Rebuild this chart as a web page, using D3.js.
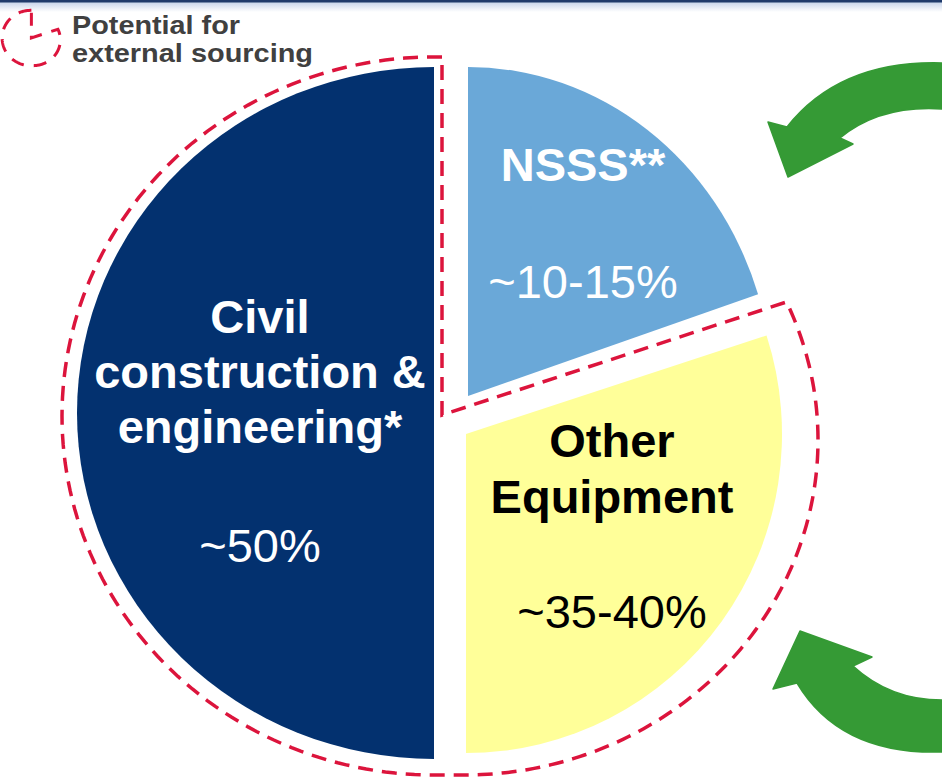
<!DOCTYPE html>
<html lang="en">
<head>
  <meta charset="UTF-8">
  <title>Cost split</title>
  <script src="https://d3js.org/d3.v7.min.js"></script>
  <style>
    body { margin: 0; padding: 0; background: #fff; }
    svg { display: block; }
    text { font-family: "Liberation Sans", Arial, sans-serif; }
  </style>
</head>
<body>
  <div id="chart"></div>
  <script>
    // data
    const categories = ["Civil construction & engineering*", "NSSS**", "Other Equipment"];
    const shares = [50, 20, 30];
    const nameLines = [["Civil", "construction &", "engineering*"], ["NSSS**"], ["Other", "Equipment"]];
    const shareLabels = ["~50%", "~10-15%", "~35-40%"];
    const externalSourcing = [true, false, true];
    const legendLines = ["Potential for", "external sourcing"];

    const width = 942, height = 781;

    // where each exploded slice sits (apex, radii) and how it is styled
    const sliceLayout = [
      { cx: 434, cy: 413, rx: 357, ry: 346, fill: "#03316f", ink: "#fff", lx: 260, ly: 333, lh: 55, shareY: 562 },
      { cx: 468, cy: 396, rx: 305, ry: 329, fill: "#6aa8d8", ink: "#fff", lx: 583, ly: 181, lh: 55, shareY: 298 },
      { cx: 466, cy: 434, rx: 316, ry: 319, fill: "#ffff99", ink: "#000", lx: 612, ly: 457, lh: 56, shareY: 628 }
    ];
    // dashed ring drawn around the externally sourced slices
    const ringLayout = [
      { cx: 434, cy: 416, rx: 372, ry: 359 },
      null,
      { cx: 464, cy: 440, rx: 354, ry: 335 }
    ];
    const ringCorner = { x: 442, y: 415 };
    const legendWidths = [168, 241];

    const svg = d3.select('#chart').append('svg')
      .attr('width', width).attr('height', height);

    // header strip
    const defs = svg.append('defs');
    const grad = defs.append('linearGradient').attr('id', 'hdr').attr('x1', 0).attr('y1', 0).attr('x2', 0).attr('y2', 1);
    grad.append('stop').attr('offset', 0).attr('stop-color', '#c6d3ea');
    grad.append('stop').attr('offset', 1).attr('stop-color', '#ffffff');
    svg.append('rect').attr('x', 0).attr('y', 2).attr('width', width).attr('height', 10).attr('fill', 'url(#hdr)');
    svg.append('rect').attr('x', 0).attr('y', 0).attr('width', width).attr('height', 2.5).attr('fill', '#1f3a6b');

    const pie = d3.pie().sort(null).startAngle(-Math.PI).endAngle(Math.PI);
    const arcs = pie(shares);
    const R = 100;
    const arc = d3.arc().innerRadius(0).outerRadius(R);

    svg.append('g').selectAll('path')
      .data(arcs)
      .join('path')
      .attr('transform', (d, i) => {
        const s = sliceLayout[i];
        return `translate(${s.cx},${s.cy}) scale(${s.rx / R},${s.ry / R})`;
      })
      .attr('d', arc)
      .attr('fill', (d, i) => sliceLayout[i].fill);

    // build the dashed outline from the pie angles
    function ellPt(e, a) { return [e.cx + e.rx * Math.sin(a), e.cy - e.ry * Math.cos(a)]; }

    function outlinePoints() {
      const idx = externalSourcing.map((v, i) => v ? i : -1).filter(i => i >= 0);
      const civ = arcs[idx[0]], oth = arcs[idx[1]];
      const r0 = ringLayout[idx[0]], r2 = ringLayout[idx[1]], s2 = sliceLayout[idx[1]];
      const pts = [];
      pts.push([ringCorner.x, r0.cy - r0.ry]);
      const n = 120;
      for (let k = 0; k <= n; k++) {
        const a = civ.endAngle + (civ.startAngle - civ.endAngle) * k / n;
        pts.push(ellPt(r0, a));
      }
      // diagonal follows the boundary between NSSS and Other
      let dx = Math.sin(oth.startAngle) * s2.rx, dy = -Math.cos(oth.startAngle) * s2.ry;
      const len = Math.hypot(dx, dy); dx /= len; dy /= len;
      const f = t => {
        const x = ringCorner.x + dx * t, y = ringCorner.y + dy * t;
        return ((x - r2.cx) / r2.rx) ** 2 + ((y - r2.cy) / r2.ry) ** 2 - 1;
      };
      let lo = 0, hi = 700;
      for (let k = 0; k < 60; k++) { const m = (lo + hi) / 2; if (f(m) < 0) lo = m; else hi = m; }
      const hit = [ringCorner.x + dx * lo, ringCorner.y + dy * lo];
      const aHit = Math.atan2((hit[0] - r2.cx) / r2.rx, -(hit[1] - r2.cy) / r2.ry);
      for (let k = 0; k <= n; k++) {
        const a = oth.endAngle + (aHit - oth.endAngle) * k / n;
        pts.push(ellPt(r2, a));
      }
      pts.push(hit);
      pts.push([ringCorner.x, ringCorner.y]);
      pts.push(pts[0]);
      return pts;
    }

    const ringPts = outlinePoints();
    const line = d3.line();

    svg.append('path')
      .attr('d', line(ringPts))
      .attr('fill', 'none')
      .attr('stroke', '#dc143c')
      .attr('stroke-width', 3.5)
      .attr('stroke-dasharray', '15 9');

    // slice labels
    const labels = svg.append('g').selectAll('g')
      .data(arcs)
      .join('g')
      .attr('text-anchor', 'middle')
      .attr('fill', (d, i) => sliceLayout[i].ink);

    labels.each(function(d, i) {
      const g = d3.select(this);
      const s = sliceLayout[i];
      nameLines[i].forEach((t, j) => {
        g.append('text')
          .attr('x', s.lx)
          .attr('y', s.ly + j * s.lh)
          .attr('font-size', 47)
          .attr('font-weight', 'bold')
          .text(t);
      });
      g.append('text')
        .attr('x', s.lx)
        .attr('y', s.shareY)
        .attr('font-size', 47)
        .text(shareLabels[i]);
    });

    // legend: a small copy of the dashed outline
    const k = 0.077;
    const legendPts = ringPts.map(p => [32 + (p[0] - 450) * k, 38 + (p[1] - 416) * k]);
    svg.append('path')
      .attr('d', line(legendPts))
      .attr('fill', 'none')
      .attr('stroke', '#dc143c')
      .attr('stroke-width', 3)
      .attr('stroke-dasharray', '13 10');

    svg.append('g').selectAll('text')
      .data(legendLines)
      .join('text')
      .attr('x', 72)
      .attr('y', (d, i) => 34 + i * 28)
      .attr('font-size', 26)
      .attr('font-weight', 'bold')
      .attr('fill', '#404040')
      .attr('textLength', (d, i) => legendWidths[i])
      .attr('lengthAdjust', 'spacingAndGlyphs')
      .text(d => d);

    // green arrows on the right
    const arrows = [
      'M942,63 Q840,60 787,127 L768,122 L788,177 L853,144 L840,138 Q880,105 942,109 Z',
      'M942,700 Q890,700 853,666 L872,657 L800,631 L773,689 L797,683 Q840,755 942,752 Z'
    ];
    svg.append('g').selectAll('path')
      .data(arrows)
      .join('path')
      .attr('d', d => d)
      .attr('fill', '#359a35')
      .attr('stroke', '#359a35')
      .attr('stroke-width', 1.5)
      .attr('stroke-linejoin', 'round');
  </script>
</body>
</html>
